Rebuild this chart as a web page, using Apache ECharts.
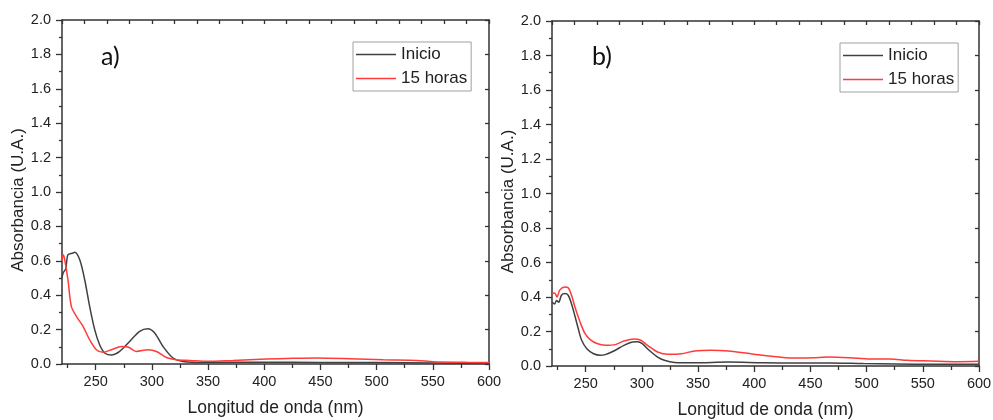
<!DOCTYPE html>
<html>
<head>
<meta charset="utf-8">
<script src="https://cdn.jsdelivr.net/npm/echarts@6/dist/echarts.min.js"></script>
<style>
html,body{margin:0;padding:0;background:#fff;}
#chart{width:993px;height:420px;}
</style>
</head>
<body>
<div id="chart"></div>
<script>
// ---- Data ----
const seriesNames = ['Inicio', '15 horas'];
const panelLabels = ['a)', 'b)'];
const xTickValues = [250, 300, 350, 400, 450, 500, 550, 600];
const xMinorValues = [225, 275, 325, 375, 425, 475, 525, 575];

// Panel a) - Inicio
const wlA_inicio  = [220, 221, 223.3, 225.3, 229.8, 231.3, 235.8, 240.2, 244.6, 249.1, 253.5, 258, 264, 271.3, 280.2, 289.1, 296.5, 302.5, 309.9, 318.8, 327.7, 347, 400, 450, 500, 550, 600];
const absA_inicio = [0.50, 0.53, 0.552, 0.635, 0.645, 0.65, 0.606, 0.49, 0.335, 0.20, 0.112, 0.064, 0.052, 0.073, 0.131, 0.19, 0.205, 0.18, 0.102, 0.035, 0.015, 0.009, 0.01, 0.009, 0.008, 0.006, 0.003];
// Panel a) - 15 horas
const wlA_15h  = [220, 221, 222, 225.3, 228.3, 232.8, 238.7, 244.6, 250.6, 256.5, 264, 272.9, 278.8, 286.2, 296.5, 304, 312.9, 321.8, 333.7, 350, 372, 402, 425.8, 446.6, 476, 506, 535.7, 550.6, 580, 600];
const absA_15h = [0.60, 0.635, 0.62, 0.49, 0.335, 0.277, 0.219, 0.141, 0.083, 0.068, 0.083, 0.102, 0.099, 0.073, 0.083, 0.073, 0.038, 0.025, 0.021, 0.0155, 0.021, 0.029, 0.033, 0.035, 0.031, 0.025, 0.021, 0.0135, 0.01, 0.008];

// Panel b) - Inicio
const wlB_inicio  = [220, 222.4, 224, 226, 228.4, 231.4, 234.4, 237.4, 240.4, 243.4, 246.4, 251, 257, 263, 267.4, 275, 284, 291.4, 295.9, 300.4, 306.4, 314, 320, 329, 347, 377, 407, 437, 467, 497, 527, 557, 600];
const absB_inicio = [0.37, 0.36, 0.38, 0.37, 0.41, 0.42, 0.41, 0.36, 0.29, 0.216, 0.149, 0.10, 0.071, 0.062, 0.066, 0.087, 0.12, 0.139, 0.141, 0.13, 0.091, 0.052, 0.033, 0.021, 0.019, 0.023, 0.019, 0.017, 0.017, 0.014, 0.012, 0.01, 0.01];
// Panel b) - 15 horas
const wlB_15h  = [220, 222.4, 224.5, 226.9, 231.4, 234.4, 237.4, 240.4, 245, 249.4, 254, 260, 267.4, 276.4, 284, 293, 299, 305, 314, 323, 335, 347, 362, 377, 392, 407, 422, 437, 452, 467, 485, 503, 521, 536, 557, 581, 600];
const absB_15h = [0.42, 0.423, 0.40, 0.44, 0.458, 0.454, 0.41, 0.342, 0.255, 0.187, 0.153, 0.13, 0.12, 0.124, 0.145, 0.157, 0.149, 0.12, 0.081, 0.068, 0.071, 0.087, 0.091, 0.087, 0.075, 0.062, 0.052, 0.046, 0.048, 0.052, 0.048, 0.041, 0.041, 0.033, 0.029, 0.025, 0.027];

const pairs = (xs, ys) => xs.map((x, i) => [x, ys[i]]);

const FONT = 'Liberation Sans';
const AXIS_COLOR = '#333';
const TEXT_COLOR = '#222';
const lineColors = ['#404040', '#ff3b3b'];

const grids = [
  {left: 62, top: 20, width: 427, height: 344, outerBoundsMode: 'none', containLabel: false},
  {left: 552, top: 21, width: 427, height: 345, outerBoundsMode: 'none', containLabel: false}
];
const yNameGaps = [33, 32];

const xAxes = [], yAxes = [], series = [], legends = [], titles = [];

grids.forEach((g, gi) => {
  // bottom major (labels)
  xAxes.push({
    type: 'value', gridIndex: gi, position: 'bottom', min: 220, max: 600,
    name: 'Longitud de onda (nm)', nameLocation: 'middle', nameGap: 35,
    nameTextStyle: {fontFamily: FONT, fontSize: 17.5, color: TEXT_COLOR},
    axisLine: {show: true, onZero: false, lineStyle: {color: AXIS_COLOR, width: 1.5}},
    axisTick: {show: true, inside: false, length: 6, customValues: xTickValues, lineStyle: {color: AXIS_COLOR, width: 1.3}},
    axisLabel: {show: true, margin: 10, customValues: xTickValues, fontFamily: FONT, fontSize: 14.5, color: TEXT_COLOR},
    splitLine: {show: false}
  });
  // bottom minor
  xAxes.push({
    type: 'value', gridIndex: gi, position: 'bottom', min: 220, max: 600,
    axisLine: {show: false, onZero: false},
    axisTick: {show: true, inside: false, length: 4, customValues: xMinorValues, lineStyle: {color: AXIS_COLOR, width: 1.3}},
    axisLabel: {show: false}, splitLine: {show: false}
  });
  // top (mirrored, inward)
  xAxes.push({
    type: 'value', gridIndex: gi, position: 'top', min: 220, max: 600, interval: 20,
    axisLine: {show: true, onZero: false, lineStyle: {color: AXIS_COLOR, width: 1.5}},
    axisTick: {show: true, inside: true, length: 4, lineStyle: {color: AXIS_COLOR, width: 1.3}},
    axisLabel: {show: false}, splitLine: {show: false}
  });
  // left
  yAxes.push({
    type: 'value', gridIndex: gi, position: 'left', min: 0, max: 2, interval: 0.2,
    name: 'Absorbancia (U.A.)', nameLocation: 'middle', nameGap: yNameGaps[gi],
    nameTextStyle: {fontFamily: FONT, fontSize: 17, color: TEXT_COLOR, padding: [0, 16, 0, 0]},
    axisLine: {show: true, onZero: false, lineStyle: {color: AXIS_COLOR, width: 1.5}},
    axisTick: {show: true, inside: false, length: 6, lineStyle: {color: AXIS_COLOR, width: 1.3}},
    minorTick: {show: true, splitNumber: 2, length: 3, lineStyle: {color: AXIS_COLOR, width: 1.3}},
    axisLabel: {show: true, margin: 11, fontFamily: FONT, fontSize: 14.5, color: TEXT_COLOR,
      formatter: v => v.toFixed(1)},
    splitLine: {show: false}, minorSplitLine: {show: false}
  });
  // right (mirrored, inward)
  yAxes.push({
    type: 'value', gridIndex: gi, position: 'right', min: 0, max: 2, interval: 0.2,
    axisLine: {show: true, onZero: false, lineStyle: {color: AXIS_COLOR, width: 1.5}},
    axisTick: {show: true, inside: true, length: 4, lineStyle: {color: AXIS_COLOR, width: 1.3}},
    axisLabel: {show: false}, splitLine: {show: false}
  });
});

const panelData = [
  [pairs(wlA_inicio, absA_inicio), pairs(wlA_15h, absA_15h)],
  [pairs(wlB_inicio, absB_inicio), pairs(wlB_15h, absB_15h)]
];

panelData.forEach((pd, gi) => {
  pd.forEach((d, si) => {
    series.push({
      type: 'line', name: seriesNames[si],
      xAxisIndex: gi * 3, yAxisIndex: gi * 2,
      data: d, showSymbol: false, smooth: 0.3,
      lineStyle: {color: lineColors[si], width: 1.5},
      itemStyle: {color: lineColors[si]},
      clip: true, silent: true, animation: false
    });
  });
});

const legendPos = [{left: 353, top: 42}, {left: 840, top: 43}];
legendPos.forEach((p, gi) => {
  legends.push({
    left: p.left, top: p.top, orient: 'vertical',
    data: seriesNames.map(n => ({name: n})),
    icon: 'rect', itemWidth: 40, itemHeight: 1.5, itemGap: 7,
    padding: [4, 4, 4, 3],
    borderColor: '#a0a0a0', borderWidth: 1, backgroundColor: '#fff',
    textStyle: {fontFamily: FONT, fontSize: 17, color: '#222', lineHeight: 17},
    selectedMode: false
  });
});

const labelPos = [{left: 101, top: 44}, {left: 592, top: 44}];
labelPos.forEach((p, gi) => {
  titles.push({
    text: panelLabels[gi], left: p.left, top: p.top, padding: 0,
    textStyle: {fontFamily: 'Lato', fontSize: 25, fontWeight: 'normal', color: '#111'}
  });
});

const chart = echarts.init(document.getElementById('chart'), null, {renderer: 'canvas'});
chart.setOption({
  backgroundColor: '#fff',
  animation: false,
  title: titles,
  legend: legends,
  grid: grids,
  xAxis: xAxes,
  yAxis: yAxes,
  series: series
});
</script>
</body>
</html>
